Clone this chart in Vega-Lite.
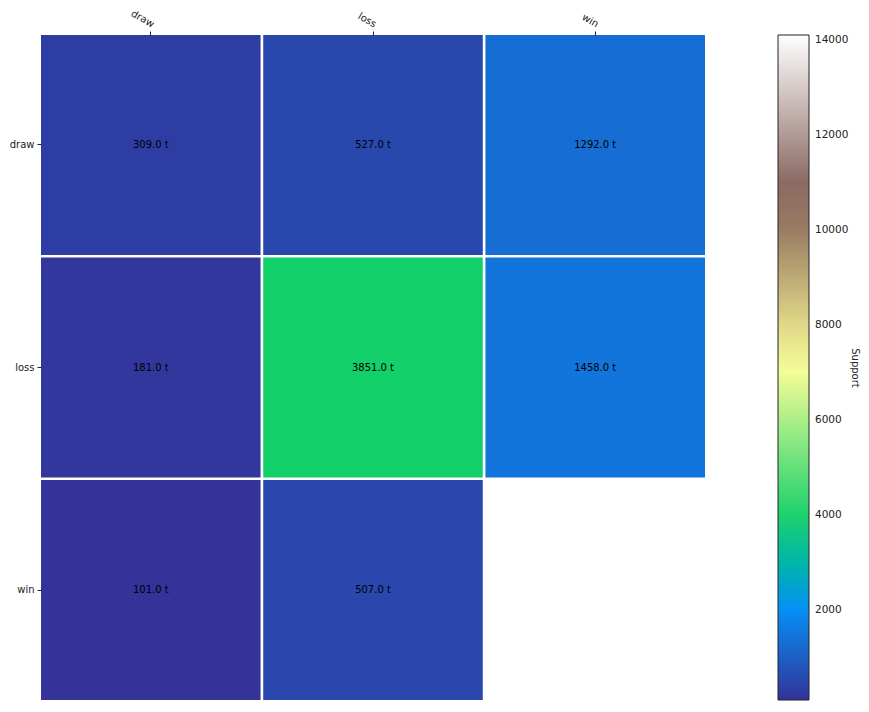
{
  "$schema": "https://vega.github.io/schema/vega-lite/v6.json",
  "autosize": {"type": "none"},
  "padding": {"left": 41, "top": 35, "right": 164, "bottom": 12},
  "width": 664,
  "height": 665,
  "background": "white",
  "config": {"view": {"stroke": null}, "font": "DejaVu Sans"},
  "data": {"values": [
    {"actual": "draw", "predicted": "draw", "support": 309, "label": "309.0 t"},
    {"actual": "draw", "predicted": "loss", "support": 527, "label": "527.0 t"},
    {"actual": "draw", "predicted": "win", "support": 1292, "label": "1292.0 t"},
    {"actual": "loss", "predicted": "draw", "support": 181, "label": "181.0 t"},
    {"actual": "loss", "predicted": "loss", "support": 3851, "label": "3851.0 t"},
    {"actual": "loss", "predicted": "win", "support": 1458, "label": "1458.0 t"},
    {"actual": "win", "predicted": "draw", "support": 101, "label": "101.0 t"},
    {"actual": "win", "predicted": "loss", "support": 507, "label": "507.0 t"},
    {"actual": "win", "predicted": "win", "support": 14100, "label": "14100.0 t"}
  ]},
  "encoding": {
    "x": {"field": "predicted", "type": "nominal", "sort": ["draw", "loss", "win"],
      "scale": {"paddingInner": 0.012, "paddingOuter": 0},
      "axis": {"orient": "top", "title": null, "labelAngle": 30, "labelAlign": "right", "labelBaseline": "bottom", "labelFontSize": 10, "labelColor": "#222", "domain": false, "tickSize": 4, "tickColor": "#222", "labelPadding": 2}},
    "y": {"field": "actual", "type": "nominal", "sort": ["draw", "loss", "win"],
      "scale": {"paddingInner": 0.012, "paddingOuter": 0},
      "axis": {"title": null, "labelFontSize": 10, "labelColor": "#222", "domain": false, "tickSize": 4, "tickColor": "#222", "labelPadding": 3}}
  },
  "layer": [
    {
      "mark": {"type": "rect"},
      "encoding": {
        "color": {"field": "support", "type": "quantitative",
          "scale": {"domain": [101, 2201, 3601, 7151, 10700, 14100],
            "range": ["#333399", "#0099ff", "#00cc66", "#ffff99", "#805c54", "#ffffff"],
            "interpolate": "rgb"},
          "legend": {"title": "Support", "orient": "right", "offset": 73,
            "gradientLength": 665, "gradientThickness": 31,
            "gradientStrokeColor": "#222", "gradientStrokeWidth": 1,
            "values": [2000, 4000, 6000, 8000, 10000, 12000, 14000],
            "format": "d",
            "labelFontSize": 10.5, "labelColor": "#222", "labelOffset": 6,
            "titleOrient": "right", "titleAngle": 90, "titleFontSize": 10, "titleFontWeight": "normal", "titleColor": "#222", "titleAnchor": "middle", "titlePadding": 2}}
      }
    },
    {
      "mark": {"type": "text", "fontSize": 10},
      "encoding": {
        "text": {"field": "label"},
        "color": {"condition": {"test": "datum.support > 10000", "value": "white"}, "value": "black"}
      }
    }
  ]
}
